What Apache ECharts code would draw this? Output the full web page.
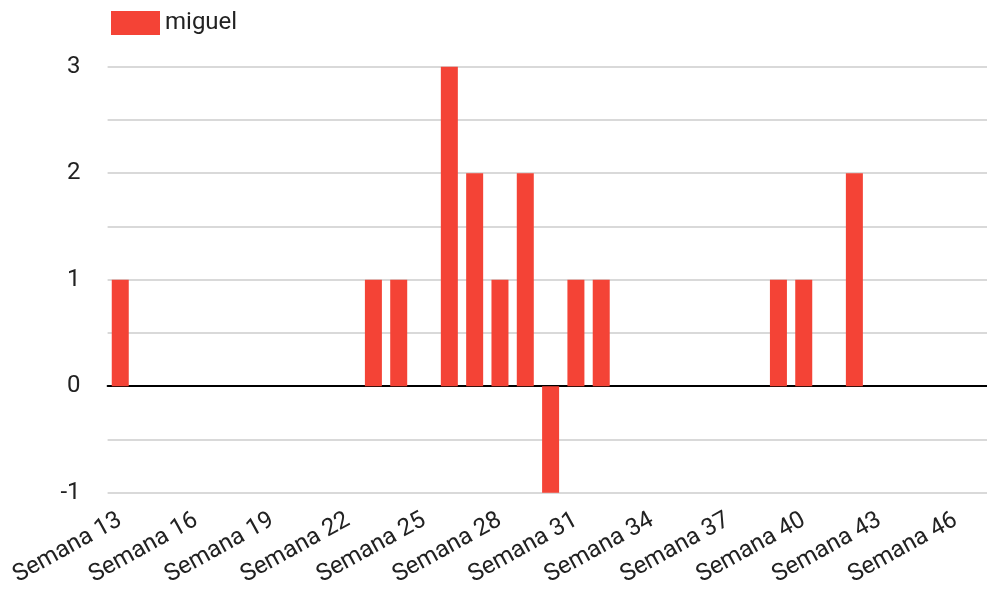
<!DOCTYPE html>
<html><head><meta charset="utf-8">
<script src="https://cdn.jsdelivr.net/npm/echarts@6/dist/echarts.min.js"></script>
<style>html,body{margin:0;padding:0;background:#fff}#c{width:987px;height:591px}</style>
</head><body><div id="c"></div>
<script>
const categories = ['Semana 13','Semana 14','Semana 15','Semana 16','Semana 17','Semana 18','Semana 19','Semana 20','Semana 21','Semana 22','Semana 23','Semana 24','Semana 25','Semana 26','Semana 27','Semana 28','Semana 29','Semana 30','Semana 31','Semana 32','Semana 33','Semana 34','Semana 35','Semana 36','Semana 37','Semana 38','Semana 39','Semana 40','Semana 41','Semana 42','Semana 43','Semana 44','Semana 45','Semana 46','Semana 47'];
const miguel = [1,0,0,0,0,0,0,0,0,0,1,1,0,3,2,1,2,-1,1,1,0,0,0,0,0,0,1,1,0,2,0,0,0,0,0];
const yTicks = [-1,0,1,2,3];

const chart = echarts.init(document.getElementById('c'));
chart.setOption({
  animation:false,
  textStyle:{fontFamily:'Roboto'},
  legend:{left:106, top:6, itemWidth:49, itemHeight:24, itemGap:10, icon:'rect',
    textStyle:{fontSize:24, color:'#222', fontFamily:'Roboto'}, data:['miguel']},
  grid:{left:107.6, top:66.7, width:886, height:426, containLabel:false, outerBoundsMode:'none'},
  xAxis:{type:'category', data:categories,
    axisTick:{show:false},
    axisLine:{onZero:true, lineStyle:{color:'#000', width:2}},
    axisLabel:{interval:2, rotate:29, fontSize:24, color:'#222', margin:26, fontFamily:'Roboto'},
    splitLine:{show:false}},
  yAxis:{type:'value', min:-1, max:3, interval:0.5,
    axisLine:{show:false}, axisTick:{show:false},
    axisLabel:{fontSize:24, color:'#222', margin:27, fontFamily:'Roboto',
      formatter:v => yTicks.includes(v) ? String(v) : ''},
    splitLine:{lineStyle:{color:'#cccccc', width:1.5}}},
  series:[{name:'miguel', type:'bar', data:miguel, barWidth:17,
    itemStyle:{color:'#f44336'}}]
});
</script></body></html>
